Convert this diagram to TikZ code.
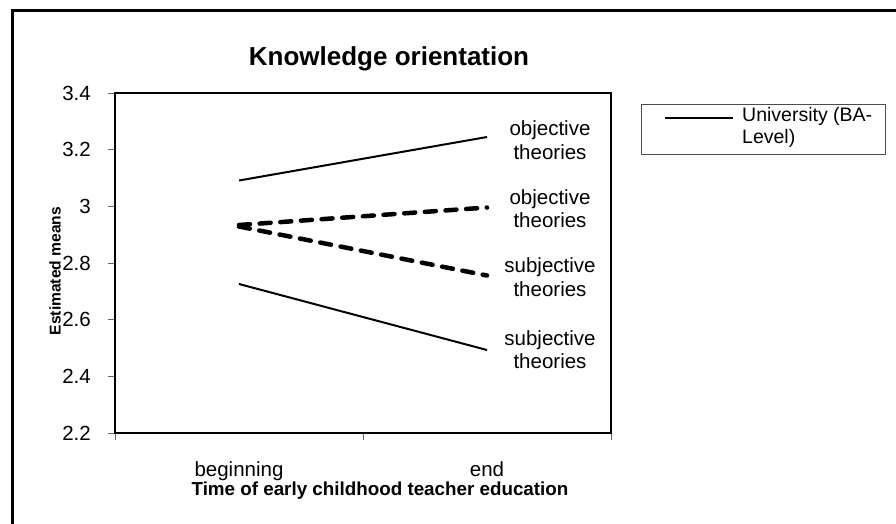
\documentclass[tikz,border=0pt]{standalone}
\usepackage{fontspec}
\setmainfont{Liberation Sans}
\begin{document}
\begin{tikzpicture}[x=1pt,y=-1pt,
  ticklab/.style={font=\fontsize{20.5}{22}\selectfont, inner sep=0pt, anchor=east},
  catlab/.style={font=\fontsize{20.5}{22}\selectfont, inner sep=0pt, anchor=base},
  serlab/.style={font=\fontsize{20.5}{23.5}\selectfont, align=center, inner sep=0pt},
  tickmark/.style={draw=black!60, line width=0.9pt},
  solidser/.style={line width=2pt},
  dashser/.style={line width=4.5pt, line cap=round, dash pattern=on 11pt off 9.7pt},
]
\useasboundingbox (0,0) rectangle (896,523);
\fill[white] (0,0) rectangle (896,523);
% outer frame
\draw[line width=3pt] (12,540) -- (12,10) -- (910,10);
% title
\node[font=\bfseries\fontsize{26}{28}\selectfont, inner sep=0pt] (title) at (389,59) {Knowledge orientation};
% y ticks
\foreach \v/\yy in {3.4/93, 3.2/149.67, 3/206.33, 2.8/263, 2.6/319.67, 2.4/376.33, 2.2/433} {
  \draw[tickmark] (108,\yy) -- (115,\yy);
  \node[ticklab] at (91,\yy) {\v};
}
% x ticks
\foreach \xx in {115, 363, 611} {
  \draw[tickmark] (\xx,433) -- (\xx,440);
}
% plot frame
\draw[line width=2pt] (115,93) rectangle (611,433);
% category labels
\node[catlab] (beg) at (239,476.7) {beginning};
\node[catlab] (end) at (487,476.7) {end};
\node[font=\bfseries\fontsize{18.8}{20}\selectfont, inner sep=0pt, anchor=base] (xtitle) at (380,495.7) {Time of early childhood teacher education};
\node[font=\bfseries\fontsize{15.6}{17}\selectfont, inner sep=0pt, rotate=90] (ytitle) at (55,271) {Estimated means};
% data points
\coordinate (a1) at (239,180.5);
\coordinate (a2) at (487,137);
\coordinate (b1) at (239,225);
\coordinate (b2) at (487,207.5);
\coordinate (c1) at (239,226.5);
\coordinate (c2) at (487,275.5);
\coordinate (d1) at (239,284);
\coordinate (d2) at (487,350);
\draw[solidser] (a1) -- (a2);
\draw[dashser] (b1) -- (b2);
\draw[dashser] (c1) -- (c2);
\draw[solidser] (d1) -- (d2);
% series labels
\node[serlab] (la) at (550,140) {objective\\theories};
\node[serlab] (lb) at (550,208.5) {objective\\theories};
\node[serlab] (lc) at (550,277) {subjective\\theories};
\node[serlab] (ld) at (550,349.5) {subjective\\theories};
% legend
\draw[draw=black!70, line width=0.9pt] (641.5,104) rectangle (885,154);
\coordinate (l1) at (665,118);
\coordinate (l2) at (733,118);
\draw[solidser] (l1) -- (l2);
\node[font=\fontsize{19.5}{22}\selectfont, inner sep=0pt, anchor=north west, align=left] (legtext) at (742,107) {University (BA-\\Level)};
\end{tikzpicture}
\end{document}
